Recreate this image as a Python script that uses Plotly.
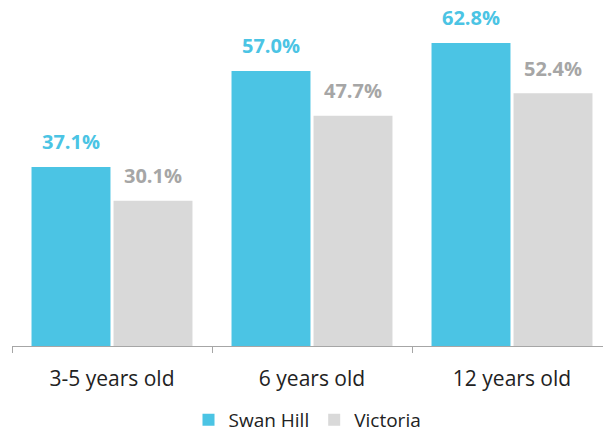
import plotly.graph_objects as go

categories = ["3-5 years old", "6 years old", "12 years old"]
swan_hill = [37.1, 57.0, 62.8]
victoria = [30.1, 47.7, 52.4]
series_names = ["Swan Hill", "Victoria"]

cyan = "#4BC4E4"
grey = "#D9D9D9"
label_grey = "#A6A6A6"

fig = go.Figure()
fig.add_bar(x=categories, y=swan_hill, name=series_names[0], marker=dict(color=cyan, line=dict(width=0)))
fig.add_bar(x=categories, y=victoria, name=series_names[1], marker=dict(color=grey, line=dict(width=0)))

for i, c in enumerate(categories):
    fig.add_annotation(x=c, y=swan_hill[i], text=f"<b>{swan_hill[i]:.1f}%</b>", xshift=-41, yshift=25,
                       showarrow=False, font=dict(family="Open Sans", size=20, color=cyan))
    fig.add_annotation(x=c, y=victoria[i], text=f"<b>{victoria[i]:.1f}%</b>", xshift=41, yshift=25,
                       showarrow=False, font=dict(family="Open Sans", size=20, color=label_grey))

fig.update_layout(
    width=603, height=439,
    margin=dict(l=12, r=0, t=0, b=93, autoexpand=False),
    paper_bgcolor="white", plot_bgcolor="white",
    barmode="group", bargap=0.18, bargroupgap=0.037,
    font=dict(family="Open Sans", size=18, color="#222222"),
    showlegend=True,
    legend=dict(orientation="h", x=0.5, xanchor="center", yref="container", y=0.0, yanchor="bottom",
                font=dict(size=19, color="#222222"), itemwidth=30, tracegroupgap=0),
    xaxis=dict(range=[-0.5, 2.455], showline=True, linecolor="#A6A6A6", linewidth=1,
               ticks="outside", tickson="boundaries", ticklen=6, tickcolor="#A6A6A6",
               ticklabelstandoff=14, automargin=False,
               showgrid=False, tickfont=dict(size=21, color="#222222"), fixedrange=True),
    yaxis=dict(range=[0, 71.7], visible=False, showgrid=False, fixedrange=True),
)

fig.write_html("out.html", config={"displayModeBar": False},
               post_script="document.body.style.margin='0';")
